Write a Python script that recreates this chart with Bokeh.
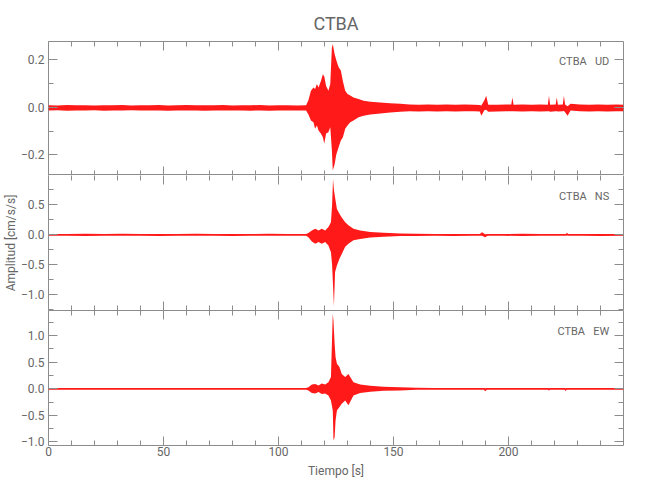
from bokeh.plotting import figure
from bokeh.layouts import column
from bokeh.models import LinearAxis, FixedTicker, Range1d, Label
from bokeh.embed import file_html
from bokeh.resources import INLINE

# ---------------- data (envelopes) ----------------
title_text = "CTBA"
x_label = "Tiempo [s]"
y_label = "Amplitud [cm/s/s]"
station = "CTBA"
components = ["UD", "NS", "EW"]

x_major = [0, 50, 100, 150, 200]
x_minor = [10, 20, 30, 40, 60, 70, 80, 90, 110, 120, 130, 140, 160, 170, 180, 190, 210, 220, 230, 240]

# UD component: time [s], upper / lower envelope [cm/s/s]
ud_t = [0, 4, 8, 12, 16, 20, 24, 28, 32, 36, 40, 44, 48, 52, 56, 60, 64, 68, 72, 76, 80, 84, 88, 92, 96,
        100, 104, 108, 112, 113, 114.1, 115.2, 115.9, 116.7, 117.4, 118.4, 119.3, 119.9, 120.7, 121.7,
        122.5, 123.2, 123.6, 124.4, 125.1, 126.1, 127.1, 128, 129, 130, 131.2, 132.6, 134.8, 137, 139.9,
        144.2, 148.6, 152.9, 157, 161, 165, 169, 173, 177, 181, 185, 187.5, 188.2, 189.5, 190.3, 191.2,
        195, 199, 201.2, 201.7, 202.2, 206, 210, 214, 217.1, 217.6, 218.1, 220.5, 221, 221.5, 223.6,
        224.1, 224.6, 225.7, 227, 231, 235, 239, 243, 247, 250]
ud_hi = [0.009, 0.008, 0.010, 0.009, 0.009, 0.008, 0.009, 0.009, 0.010, 0.008, 0.009, 0.009, 0.010, 0.008,
         0.009, 0.010, 0.009, 0.009, 0.009, 0.010, 0.008, 0.009, 0.009, 0.010, 0.008, 0.009, 0.009, 0.008,
         0.009, 0.030, 0.070, 0.084, 0.077, 0.098, 0.084, 0.110, 0.140, 0.130, 0.090, 0.070, 0.098, 0.250,
         0.267, 0.225, 0.200, 0.170, 0.155, 0.110, 0.070, 0.056, 0.050, 0.042, 0.035, 0.028, 0.024, 0.020,
         0.017, 0.015, 0.012, 0.011, 0.012, 0.011, 0.012, 0.011, 0.012, 0.011, 0.010, 0.008, 0.030, 0.049,
         0.011, 0.011, 0.012, 0.012, 0.042, 0.011, 0.012, 0.011, 0.012, 0.011, 0.049, 0.011, 0.012, 0.042,
         0.011, 0.012, 0.049, 0.012, 0.005, 0.015, 0.012, 0.011, 0.012, 0.011, 0.012, 0.011]
ud_lo = [-0.013, -0.012, -0.014, -0.013, -0.013, -0.012, -0.014, -0.013, -0.013, -0.012, -0.013, -0.013,
         -0.013, -0.014, -0.013, -0.013, -0.013, -0.014, -0.013, -0.013, -0.013, -0.013, -0.014, -0.013,
         -0.014, -0.013, -0.013, -0.013, -0.013, -0.030, -0.056, -0.063, -0.090, -0.077, -0.098, -0.110,
         -0.126, -0.154, -0.110, -0.105, -0.084, -0.180, -0.267, -0.240, -0.200, -0.170, -0.140, -0.126,
         -0.090, -0.077, -0.063, -0.056, -0.042, -0.035, -0.030, -0.026, -0.022, -0.019, -0.017, -0.018,
         -0.016, -0.018, -0.017, -0.018, -0.016, -0.017, -0.018, -0.035, -0.012, -0.010, -0.019, -0.018,
         -0.017, -0.017, -0.016, -0.017, -0.018, -0.017, -0.018, -0.017, -0.017, -0.019, -0.017, -0.016,
         -0.018, -0.017, -0.015, -0.021, -0.035, -0.013, -0.017, -0.018, -0.017, -0.018, -0.017, -0.017]

# NS component
ns_t = [0, 8, 16, 24, 32, 40, 48, 56, 64, 72, 80, 88, 96, 104, 112, 113, 114.5, 116, 117.4, 118.8, 120.3,
        121.7, 122.8, 123.3, 123.7, 124.1, 124.6, 125.4, 126.5, 127.5, 129, 130.4, 132.6, 135.5, 139.9,
        145.7, 152.9, 160, 168, 176, 184, 187.5, 188.5, 189.8, 191, 198, 206, 214, 220, 225, 225.4, 226,
        232, 240, 250]
ns_hi = [0.015, 0.014, 0.016, 0.014, 0.016, 0.014, 0.015, 0.014, 0.016, 0.014, 0.015, 0.014, 0.016, 0.014,
         0.015, 0.030, 0.070, 0.100, 0.070, 0.100, 0.070, 0.130, 0.210, 0.500, 0.930, 0.750, 0.620, 0.430,
         0.350, 0.290, 0.210, 0.160, 0.100, 0.070, 0.045, 0.033, 0.022, 0.016, 0.014, 0.015, 0.014, 0.015,
         0.043, 0.010, 0.015, 0.014, 0.016, 0.014, 0.015, 0.015, 0.033, 0.015, 0.014, 0.015, 0.014]
ns_lo = [-0.018, -0.017, -0.019, -0.017, -0.018, -0.018, -0.019, -0.017, -0.018, -0.017, -0.019, -0.018,
         -0.018, -0.017, -0.018, -0.040, -0.110, -0.150, -0.120, -0.150, -0.120, -0.180, -0.290, -0.500,
         -0.840, -1.190, -0.620, -0.510, -0.400, -0.320, -0.200, -0.150, -0.090, -0.070, -0.045, -0.033,
         -0.022, -0.019, -0.018, -0.019, -0.017, -0.018, -0.015, -0.040, -0.018, -0.018, -0.019, -0.017,
         -0.018, -0.018, -0.010, -0.018, -0.018, -0.019, -0.018]

# EW component
ew_t = [0, 8, 16, 24, 32, 40, 48, 56, 64, 72, 80, 88, 96, 104, 112, 113, 114.5, 116, 117.4, 118.8, 120.3,
        121.7, 122.8, 123.6, 123.9, 124.4, 124.8, 125.4, 126.5, 127.5, 129, 130.4, 132.6, 135.5, 139.9,
        145.7, 152.9, 160, 168, 176, 184, 189.3, 189.9, 190.6, 198, 206, 214, 217.1, 217.6, 218.1, 222,
        224.3, 224.8, 225.3, 232, 240, 250]
ew_hi = [0.015, 0.014, 0.016, 0.014, 0.016, 0.014, 0.015, 0.014, 0.016, 0.014, 0.015, 0.014, 0.016, 0.014,
         0.015, 0.030, 0.080, 0.090, 0.060, 0.100, 0.080, 0.125, 0.220, 1.410, 1.280, 0.850, 0.600, 0.470,
         0.410, 0.280, 0.220, 0.280, 0.125, 0.080, 0.056, 0.038, 0.030, 0.018, 0.016, 0.015, 0.014, 0.015,
         0.010, 0.016, 0.015, 0.014, 0.016, 0.015, 0.010, 0.015, 0.014, 0.015, 0.010, 0.015, 0.014, 0.015, 0.014]
ew_lo = [-0.017, -0.016, -0.018, -0.016, -0.018, -0.016, -0.017, -0.016, -0.018, -0.016, -0.017, -0.016,
         -0.018, -0.016, -0.017, -0.030, -0.080, -0.090, -0.060, -0.100, -0.090, -0.125, -0.220, -0.410,
         -0.970, -0.910, -0.600, -0.410, -0.340, -0.280, -0.220, -0.310, -0.125, -0.080, -0.056, -0.038,
         -0.030, -0.020, -0.018, -0.019, -0.017, -0.018, -0.044, -0.018, -0.017, -0.019, -0.018, -0.017,
         -0.030, -0.018, -0.017, -0.018, -0.040, -0.018, -0.017, -0.019, -0.018]

ud_range = (-0.2877, 0.2779)
ns_range = (-1.262, 0.988)
ew_range = (-1.066, 1.472)

ud_major = [-0.2, 0.0, 0.2]
ud_minor = [-0.1, 0.1]
ns_major = [-1.0, -0.5, 0.0, 0.5]
ns_minor = [-1.25, -0.75, -0.25, 0.25, 0.75]
ew_major = [-1.0, -0.5, 0.0, 0.5, 1.0]
ew_minor = [-0.75, -0.25, 0.25, 0.75, 1.25]

label_x = 243.8
ud_label_y = 0.192
ns_label_y = 0.638
ew_label_y = 1.077

# ---------------- styling ----------------
FONT = "Roboto"
LINE = "#8c8c8c"
TEXT = "#666666"
TRACE = "#ff0000"
FRAME_W = 575
LEFT, RIGHT = 48, 15
TOP_H, BOTTOM_H = 41, 38


def fmt(v):
    s = "%.1f" % abs(v)
    return ("\u2212" + s) if v < 0 else s


def style_axis(ax, ticks, minor, show_labels, line=False, overrides=None, standoff=4):
    ax.ticker = FixedTicker(ticks=ticks, minor_ticks=minor)
    ax.major_tick_in = 9
    ax.major_tick_out = 0
    ax.minor_tick_in = 5
    ax.minor_tick_out = 0
    ax.major_tick_line_color = LINE
    ax.minor_tick_line_color = LINE
    ax.axis_line_color = LINE if line else None
    if show_labels:
        ax.major_label_text_font = FONT
        ax.major_label_text_font_size = "12px"
        ax.major_label_text_color = TEXT
        ax.major_label_standoff = standoff
        if overrides:
            ax.major_label_overrides = overrides
    else:
        ax.major_label_text_font_size = "0px"
        ax.major_label_text_color = None
        ax.major_label_standoff = 0


def make_panel(t, hi, lo, yr, ymaj, ymin, comp, label_y, fh, top=False, bottom=False, ylab=None):
    h = fh + (TOP_H if top else 0) + (BOTTOM_H if bottom else 0)
    p = figure(width=LEFT + FRAME_W + RIGHT, height=h, x_range=Range1d(0, 250), y_range=Range1d(*yr),
               output_backend="svg", toolbar_location=None,
               x_axis_location=None, y_axis_location=None,
               min_border_left=LEFT, min_border_right=RIGHT,
               min_border_top=TOP_H if top else 0, min_border_bottom=BOTTOM_H if bottom else 0)
    p.grid.grid_line_color = None
    # middle panel: its top/bottom edges are drawn by the neighbours' outlines
    middle = not (top or bottom)
    p.outline_line_color = None if middle else LINE
    p.background_fill_color = "white"
    p.border_fill_color = "white"

    p.varea(x=t, y1=lo, y2=hi, fill_color=TRACE, fill_alpha=0.9)

    left = LinearAxis()
    style_axis(left, ymaj, ymin, True, line=middle, overrides={v: fmt(v) for v in ymaj})
    if ylab:
        left.axis_label = ylab
        left.axis_label_text_font = FONT
        left.axis_label_text_font_size = "12px"
        left.axis_label_text_font_style = "normal"
        left.axis_label_text_color = TEXT
        left.axis_label_standoff = 0
    p.add_layout(left, "left")

    right = LinearAxis()
    style_axis(right, ymaj, ymin, False, line=middle)
    p.add_layout(right, "right")

    above = LinearAxis()
    style_axis(above, x_major, x_minor, False)
    p.add_layout(above, "above")

    below = LinearAxis()
    if bottom:
        style_axis(below, x_major, x_minor, True, standoff=1)
        below.axis_label = x_label
        below.axis_label_text_font = FONT
        below.axis_label_text_font_size = "12px"
        below.axis_label_text_font_style = "normal"
        below.axis_label_text_color = TEXT
        below.axis_label_standoff = 5
    else:
        style_axis(below, x_major, x_minor, False)
    p.add_layout(below, "below")

    p.add_layout(Label(x=label_x, y=label_y, text=station + "\u00a0\u00a0\u00a0" + comp,
                       text_font=FONT, text_font_size="11px", text_color=TEXT,
                       text_align="right", text_baseline="middle"))

    if top:
        p.title.text = title_text
        p.title.align = "center"
        p.title.text_font = FONT
        p.title.text_font_size = "18px"
        p.title.text_font_style = "normal"
        p.title.text_color = TEXT
        p.title.standoff = 16
    return p


p1 = make_panel(ud_t, ud_hi, ud_lo, ud_range, ud_major, ud_minor, components[0], ud_label_y, 134, top=True)
p2 = make_panel(ns_t, ns_hi, ns_lo, ns_range, ns_major, ns_minor, components[1], ns_label_y, 135, ylab=y_label)
p3 = make_panel(ew_t, ew_hi, ew_lo, ew_range, ew_major, ew_minor, components[2], ew_label_y, 135, bottom=True)

layout = column(p1, p2, p3, spacing=0)
open("out.html", "w").write(file_html(layout, INLINE))
